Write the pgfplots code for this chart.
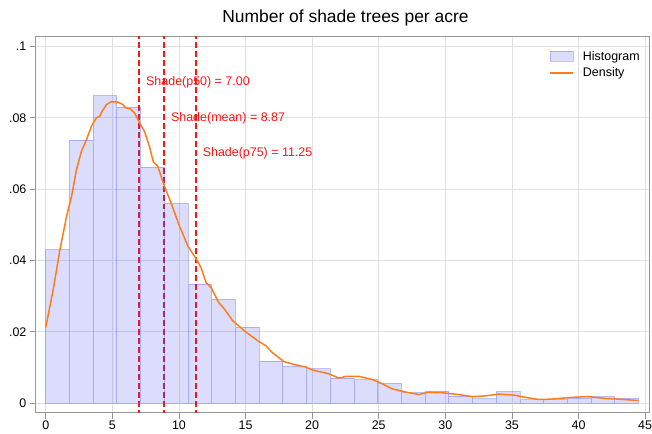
\documentclass[border=0pt]{standalone}
\usepackage{pgfplots}
\pgfplotsset{compat=1.18}
\usepackage{fontspec}
\setmainfont{Liberation Sans}

\definecolor{histblue}{RGB}{60,60,240}
\definecolor{densorange}{RGB}{255,125,25}
\definecolor{framegray}{RGB}{150,150,150}
\definecolor{gridgray}{RGB}{225,225,225}
\definecolor{refred}{RGB}{255,20,20}

\begin{document}
\begin{tikzpicture}
\begin{axis}[
  name=ax,
  scale only axis,
  width=615pt, height=377pt,
  xmin=-0.74, xmax=45.29,
  ymin=-0.0027, ymax=0.1027,
  axis line style={framegray, line width=1pt},
  tick style={framegray, line width=0.8pt},
  tick align=outside,
  tick pos=left,
  major tick length=6pt,
  xtick={0,5,...,45},
  ytick={0,0.02,0.04,0.06,0.08,0.1},
  yticklabels={0,.02,.04,.06,.08,.1},
  grid=major,
  major grid style={gridgray, line width=0.8pt},
  ticklabel style={font=\fontsize{12.5}{14}\selectfont},
  xticklabel style={yshift=1.5pt},
  /pgf/number format/assume math mode=true,
  title={Number of shade trees per acre},
  title style={font=\fontsize{17.5}{20}\selectfont, at={(0.5,1)}, anchor=base, yshift=8pt, xshift=3pt},
  legend cell align=left,
  legend style={draw=none, fill=none, at={(0.8374,0.9655)}, anchor=north west,
    inner sep=0pt, font=\fontsize{12.5}{14}\selectfont, row sep=4pt, column sep=8pt,
    nodes={inner sep=1pt}},
]

% reference lines: median, mean, 75th percentile
\addplot[refred, line width=2pt, dash pattern=on 6pt off 3pt, forget plot] coordinates {(7,-1) (7,1)};
\addplot[refred, line width=2pt, dash pattern=on 6pt off 3pt, forget plot] coordinates {(8.87,-1) (8.87,1)};
\addplot[refred, line width=2pt, dash pattern=on 6pt off 3pt, forget plot] coordinates {(11.25,-1) (11.25,1)};

% histogram, 25 bins of width 1.78
\addplot[ybar interval, fill=histblue, fill opacity=0.18, draw=histblue, draw opacity=0.3, line width=0.8pt,
  legend image code/.code={\draw[fill=histblue, fill opacity=0.18, draw=histblue, draw opacity=0.3, line width=0.8pt] (0pt,-5pt) rectangle (23pt,5pt);}]
coordinates {
(0.00,0.0430) (1.78,0.0737) (3.56,0.0862) (5.34,0.0830) (7.12,0.0662)
(8.90,0.0560) (10.68,0.0334) (12.46,0.0291) (14.24,0.0213) (16.02,0.0118)
(17.80,0.0103) (19.58,0.0096) (21.36,0.0070) (23.14,0.0065) (24.92,0.0055)
(26.70,0.0029) (28.48,0.0034) (30.26,0.0020) (32.04,0.0012) (33.82,0.0032)
(35.60,0.0009) (37.38,0.0009) (39.16,0.0013) (40.94,0.0018) (42.72,0.0013)
(44.50,0.0013)
};
\addlegendentry{Histogram}

% kernel density estimate
\addplot[densorange, line width=1.5pt,
  legend image code/.code={\draw[densorange, line width=1.5pt] (0pt,0pt) -- (23pt,0pt);}]
coordinates {
(0.00,0.0212) (0.57,0.0320) (1.07,0.0431) (1.57,0.0525) (1.94,0.0580)
(2.31,0.0655) (2.68,0.0706) (3.06,0.0739) (3.43,0.0776) (3.80,0.0800)
(4.05,0.0804) (4.17,0.0814) (4.55,0.0837) (4.92,0.0845) (5.42,0.0844)
(5.79,0.0837) (5.99,0.0828) (6.34,0.0825) (6.66,0.0814) (7.04,0.0786)
(7.41,0.0762) (7.78,0.0720) (8.08,0.0676) (8.41,0.0664) (8.90,0.0609)
(9.40,0.0562) (10.00,0.0500) (10.66,0.0441) (11.23,0.0408) (11.66,0.0380)
(12.03,0.0338) (12.41,0.0324) (12.98,0.0282) (13.41,0.0264) (14.03,0.0231)
(15.03,0.0199) (16.02,0.0172) (16.52,0.0161) (17.02,0.0141) (17.89,0.0116)
(18.76,0.0107) (19.51,0.0101) (20.00,0.0093) (21.25,0.0082) (22.00,0.0070)
(22.60,0.0075) (23.50,0.0075) (24.50,0.0066) (25.00,0.0059) (26.00,0.0040)
(27.00,0.0031) (28.00,0.0024) (28.70,0.0030) (29.70,0.0029) (31.00,0.0024)
(32.00,0.0018) (33.00,0.0020) (34.00,0.0025) (35.20,0.0022) (36.00,0.0016)
(37.00,0.0010) (38.00,0.0011) (39.50,0.0016) (40.70,0.0018) (42.00,0.0013)
(43.00,0.0011) (44.50,0.0007)
};
\addlegendentry{Density}

\node[refred, anchor=west, inner sep=0pt, xshift=7pt, font=\fontsize{12.5}{14}\selectfont] at (7,0.09) {Shade(p50) = 7.00};
\node[refred, anchor=west, inner sep=0pt, xshift=7pt, font=\fontsize{12.5}{14}\selectfont] at (8.87,0.08) {Shade(mean) = 8.87};
\node[refred, anchor=west, inner sep=0pt, xshift=7pt, font=\fontsize{12.5}{14}\selectfont] at (11.25,0.07) {Shade(p75) = 11.25};
\end{axis}
\pgfresetboundingbox
\path[use as bounding box] ([xshift=-36pt,yshift=-21pt]ax.south west) rectangle ([xshift=3pt,yshift=37pt]ax.north east);
\end{tikzpicture}
\end{document}
